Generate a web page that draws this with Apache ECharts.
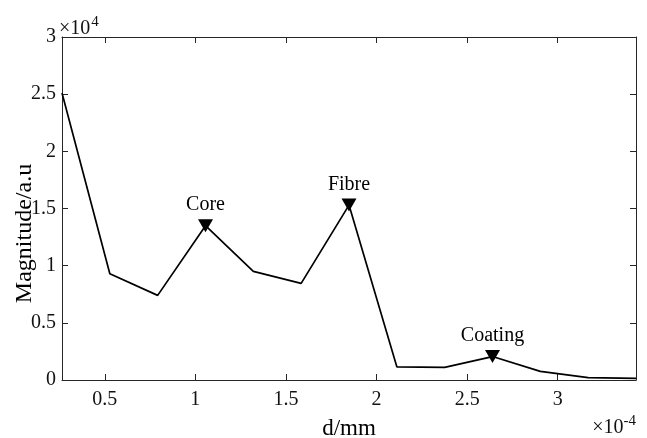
<!DOCTYPE html>
<html>
<head>
<meta charset="utf-8">
<script src="https://cdn.jsdelivr.net/npm/echarts@6/dist/echarts.min.js"></script>
<style>
  html, body { margin: 0; padding: 0; background: #fff; }
  #chart { width: 647px; height: 438px; }
</style>
</head>
<body>
<div id="chart"></div>
<script>
// d in units of 1e-4 mm, magnitude in units of 1e4
const dVals = [0.264, 0.528, 0.792, 1.056, 1.32, 1.584, 1.848, 2.112, 2.376, 2.64, 2.904, 3.168, 3.432];
const magVals = [2.51, 0.93, 0.74, 1.35, 0.95, 0.845, 1.53, 0.115, 0.11, 0.205, 0.075, 0.02, 0.015];
// peaks marked with a triangle and a name
const peakIdx = [3, 6, 9];
const peakNames = ['Core', 'Fibre', 'Coating'];
const yTicks = [0, 0.5, 1, 1.5, 2, 2.5, 3];

const font = 'Liberation Serif';
const axisCol = '#262626';

let chart = echarts.init(document.getElementById('chart'));

const xBase = {
  type: 'value',
  min: dVals[0],
  max: dVals[dVals.length - 1],
  axisLine: { onZero: false, lineStyle: { color: axisCol, width: 1 } },
  axisTick: { inside: true, length: 6, lineStyle: { color: axisCol } },
  splitLine: { show: false }
};
const yBase = {
  type: 'value',
  min: yTicks[0],
  max: yTicks[yTicks.length - 1],
  interval: 0.5,
  axisLine: { show: true, lineStyle: { color: axisCol, width: 1 } },
  axisTick: { show: true, inside: true, length: 6, lineStyle: { color: axisCol } },
  splitLine: { show: false }
};

let option = {
  animation: false,
  grid: { left: 62, right: 11, top: 37, bottom: 58, outerBoundsMode: 'none', containLabel: false },
  xAxis: [
    Object.assign({}, xBase, {
      position: 'bottom',
      name: 'd/mm',
      nameLocation: 'middle',
      nameGap: 37,
      nameMoveOverlap: false,
      nameTextStyle: { fontFamily: font, fontSize: 23, color: '#000' },
      axisLabel: {
        fontFamily: font, fontSize: 20, color: '#111', margin: 10,
        showMinLabel: false, showMaxLabel: false
      }
    }),
    Object.assign({}, xBase, {
      position: 'top',
      axisLabel: { show: false }
    })
  ],
  yAxis: [
    Object.assign({}, yBase, {
      position: 'left',
      name: 'Magnitude/a.u',
      nameLocation: 'middle',
      nameGap: 25,
      nameMoveOverlap: false,
      nameTextStyle: { fontFamily: font, fontSize: 24, color: '#000', padding: [0, 50, 0, 0] },
      axisLabel: { fontFamily: font, fontSize: 20, color: '#111', margin: 6 }
    }),
    Object.assign({}, yBase, {
      position: 'right',
      axisLabel: { show: false }
    })
  ],
  series: [
    {
      type: 'line',
      data: dVals.map((d, i) => [d, magVals[i]]),
      symbol: 'none',
      lineStyle: { color: '#000', width: 1.7 },
      z: 2
    },
    {
      type: 'scatter',
      data: peakIdx.map((k, i) => ({ name: peakNames[i], value: [dVals[k], magVals[k]] })),
      symbol: 'triangle',
      symbolRotate: 180,
      symbolSize: [15, 13],
      itemStyle: { color: '#000', opacity: 1 },
      label: {
        show: true,
        position: 'top',
        distance: 4,
        formatter: p => p.name,
        fontFamily: font,
        fontSize: 20,
        color: '#000'
      },
      z: 3
    }
  ],
  graphic: [
    {
      type: 'text',
      left: 59,
      top: 15,
      style: {
        text: '×10{s|4}',
        font: '20px "Liberation Serif"',
        fill: '#111',
        rich: { s: { fontFamily: font, fontSize: 15, padding: [0, 0, 12, 1] } }
      }
    },
    {
      type: 'text',
      right: 11,
      top: 414,
      style: {
        text: '×10{s|-4}',
        font: '20px "Liberation Serif"',
        fill: '#111',
        rich: { s: { fontFamily: font, fontSize: 15, padding: [0, 0, 12, 0] } }
      }
    }
  ]
};

chart.setOption(option);
</script>
</body>
</html>
